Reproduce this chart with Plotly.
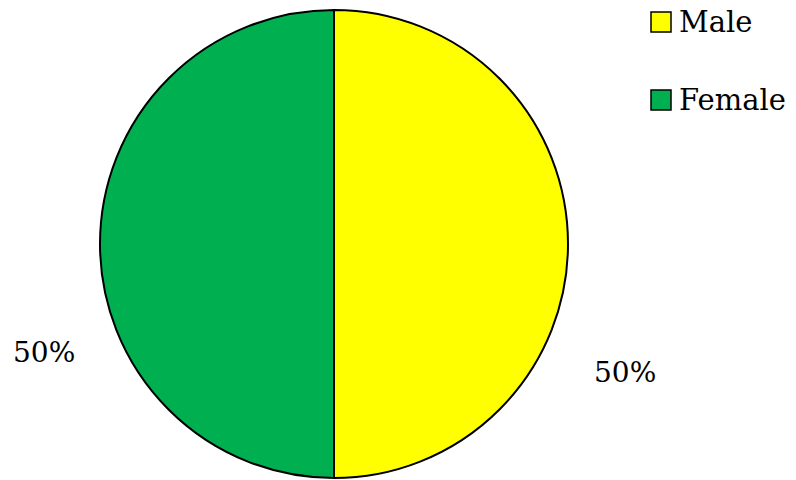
import plotly.graph_objects as go

labels = ["Male", "Female"]
values = [50, 50]
colors = ["#FFFF00", "#00B050"]
pct_text = ["50%", "50%"]

FONT = "DejaVu Serif"
W, H = 796, 480

fig = go.Figure(go.Pie(
    labels=labels, values=values, sort=False, direction="clockwise", rotation=0,
    marker=dict(colors=colors, line=dict(color="black", width=2)),
    textinfo="none", hoverinfo="label+percent", showlegend=False,
    domain=dict(x=[100 / W, 568 / W], y=[2 / H, 470 / H]),
))

# percentage labels (positions in pixels)
label_pos = [(625, 372), (44, 352)]
for t, (px, py) in zip(pct_text, label_pos):
    fig.add_annotation(x=px / W, y=1 - py / H, xref="paper", yref="paper",
                       text=t, showarrow=False, xanchor="center", yanchor="middle",
                       font=dict(family=FONT, size=28, color="black"))

# manual legend
legend_y = [22, 100]
for lab, col, ly in zip(labels, colors, legend_y):
    fig.add_shape(type="rect", xref="paper", yref="paper",
                  x0=651 / W, x1=671 / W, y0=1 - (ly - 10) / H, y1=1 - (ly + 10) / H,
                  fillcolor=col, line=dict(color="black", width=1.5))
    fig.add_annotation(x=677 / W, y=1 - ly / H, xref="paper", yref="paper",
                       text=lab, showarrow=False, xanchor="left", yanchor="middle",
                       font=dict(family=FONT, size=29, color="black"))

fig.update_layout(width=W, height=H, margin=dict(l=0, r=0, t=0, b=0),
                  paper_bgcolor="white", plot_bgcolor="white")
fig.write_html("out.html")
